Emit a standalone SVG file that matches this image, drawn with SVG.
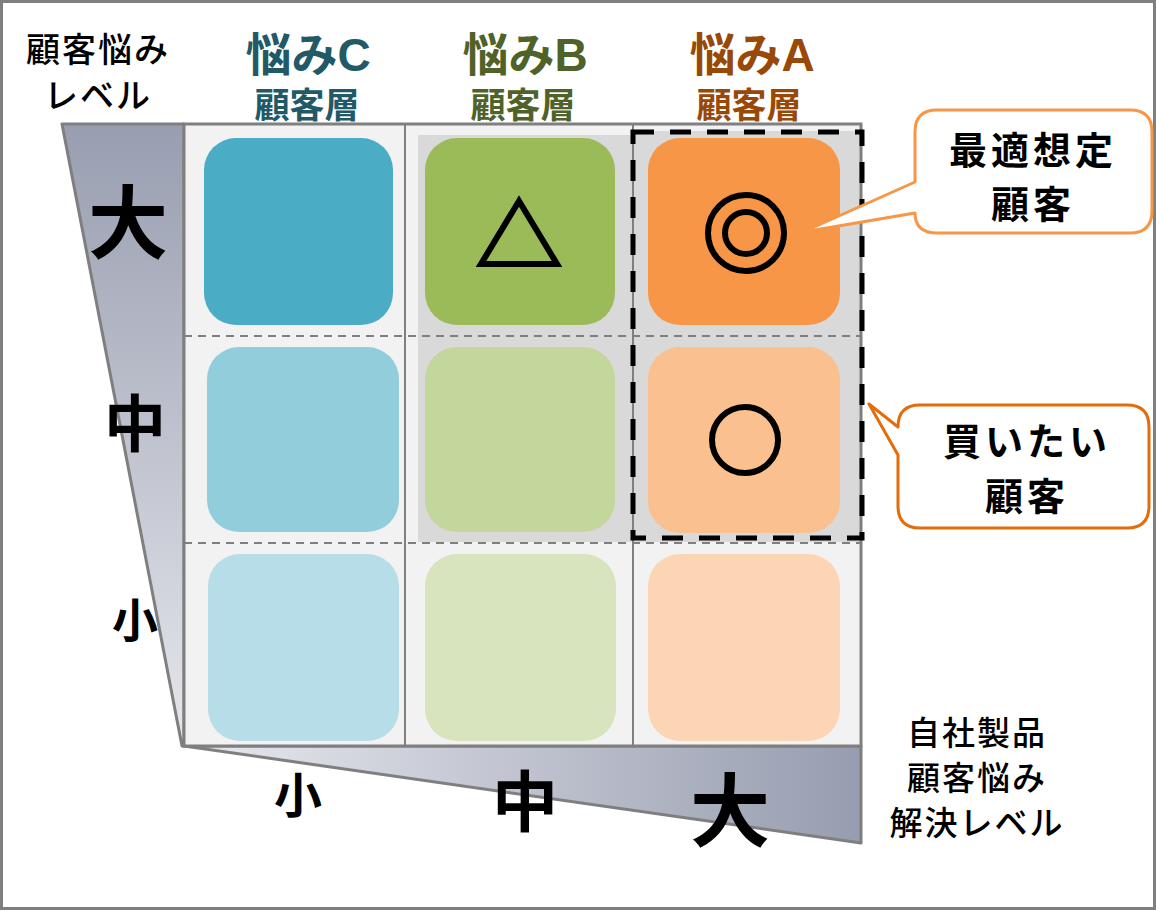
<svg xmlns="http://www.w3.org/2000/svg" width="1157" height="911" viewBox="0 0 1157 911">
<defs>
<linearGradient id="gv" x1="0" y1="0" x2="0" y2="1">
<stop offset="0" stop-color="#989eb0"/>
<stop offset="1" stop-color="#e6e7ec"/>
</linearGradient>
<linearGradient id="gh" x1="0" y1="0" x2="1" y2="0">
<stop offset="0" stop-color="#e8e9ee"/>
<stop offset="1" stop-color="#979db0"/>
</linearGradient>
<style>
.t{font-family:"Liberation Sans","Noto Sans CJK JP",sans-serif;font-weight:bold;text-anchor:middle}
.m{font-family:"Noto Sans CJK JP",sans-serif;font-weight:500;text-anchor:middle;fill:#000}
.b{font-family:"Noto Sans CJK JP",sans-serif;font-weight:bold;text-anchor:middle;fill:#000}
.div{stroke:#7f7f7f;stroke-width:2;fill:none}
.row{stroke:#7f7f7f;stroke-width:2;stroke-dasharray:8 6;fill:none}
.sym{fill:none;stroke:#000;stroke-width:6}
</style>
</defs>
<rect x="0" y="0" width="1157" height="911" fill="#fff"/>
<rect x="1.5" y="1.5" width="1153" height="907" fill="none" stroke="#7f7f7f" stroke-width="3"/>

<g id="axis-left">
<polygon points="62,124 184,124 184,746 182,746" fill="url(#gv)" stroke="#7f7f7f" stroke-width="3" stroke-linejoin="round"/>
<text class="b" x="128" y="252" font-size="80">大</text>
<text class="b" x="135" y="447" font-size="62">中</text>
<text class="b" x="135" y="637" font-size="46">小</text>
</g>
<g id="axis-bottom">
<polygon points="184,746 861,746 861,843" fill="url(#gh)" stroke="#7f7f7f" stroke-width="3" stroke-linejoin="round"/>
<text class="b" x="298" y="813" font-size="48">小</text>
<text class="b" x="525" y="826" font-size="66">中</text>
<text class="b" x="730" y="840" font-size="80">大</text>
</g>

<g id="grid">
<rect x="184" y="124" width="677" height="622" fill="#f2f2f2"/>
<rect x="418" y="135" width="215" height="407" fill="#d9d9d9"/>
<rect x="633" y="131" width="228" height="411" fill="#d9d9d9"/>
<line class="div" x1="405" y1="124" x2="405" y2="746"/>
<line class="div" x1="633" y1="124" x2="633" y2="746"/>
<line class="row" x1="184" y1="336" x2="861" y2="336"/>
<line class="row" x1="184" y1="543" x2="861" y2="543"/>
<rect x="184" y="124" width="677" height="622" fill="none" stroke="#7f7f7f" stroke-width="3"/>
</g>

<g id="tiles">
<rect id="c1" x="204" y="138" width="189" height="187" rx="32" fill="#4bacc6"/>
<rect id="c2" x="207" y="347" width="192" height="185" rx="32" fill="#92cddc"/>
<rect id="c3" x="208" y="554" width="191" height="187" rx="32" fill="#b7dde8"/>
<rect id="b1" x="425" y="138" width="190" height="187" rx="32" fill="#9bbb59"/>
<rect id="b2" x="425" y="347" width="190" height="185" rx="32" fill="#c3d69b"/>
<rect id="b3" x="425" y="554" width="191" height="187" rx="32" fill="#d7e4bd"/>
<rect id="a1" x="648" y="138" width="192" height="187" rx="32" fill="#f79646"/>
<rect id="a2" x="648" y="347" width="192" height="186" rx="32" fill="#fac090"/>
<rect id="a3" x="648" y="554" width="192" height="187" rx="32" fill="#fcd5b5"/>
</g>

<g id="symbols">
<polygon class="sym" points="481,264 557,264 519,201" stroke-linejoin="miter"/>
<circle class="sym" cx="746" cy="233" r="38"/>
<circle class="sym" cx="746" cy="233" r="21"/>
<circle class="sym" cx="745" cy="440" r="33" stroke-width="5"/>
</g>

<g id="target-frame">
<rect x="633" y="132" width="229" height="406" fill="none" stroke="#000" stroke-width="5" stroke-dasharray="21 16"/>
</g>

<g id="headers">
<text class="m" x="98" y="62" font-size="34" letter-spacing="2">顧客悩み</text>
<text class="m" x="98" y="108" font-size="34" letter-spacing="2">レベル</text>
<text class="t" x="308" y="71" font-size="46" fill="#215967">悩みC</text>
<text class="t" x="307" y="118" font-size="35" fill="#215967">顧客層</text>
<text class="t" x="525" y="71" font-size="46" fill="#4f6228">悩みB</text>
<text class="t" x="523" y="118" font-size="35" fill="#4f6228">顧客層</text>
<text class="t" x="752" y="71" font-size="46" fill="#984807">悩みA</text>
<text class="t" x="749" y="118" font-size="35" fill="#984807">顧客層</text>
<text class="m" x="977" y="745" font-size="33" letter-spacing="2">自社製品</text>
<text class="m" x="977" y="790" font-size="33" letter-spacing="2">顧客悩み</text>
<text class="m" x="977" y="835" font-size="33" letter-spacing="2">解決レベル</text>
</g>

<g id="callout-best">
<path d="M937 110 H1130 Q1152 110 1152 132 V211 Q1152 233 1130 233 H937 Q915 233 915 213 L803 232 L915 182 V132 Q915 110 937 110 Z" fill="#fff" stroke="#f79646" stroke-width="3" stroke-linejoin="round"/>
<text class="b" x="1033" y="164" font-size="38" letter-spacing="4">最適想定</text>
<text class="b" x="1033" y="218" font-size="38" letter-spacing="4">顧客</text>
</g>

<g id="callout-buy">
<path d="M920 405 H1127 Q1149 405 1149 427 V506 Q1149 528 1127 528 H920 Q898 528 898 506 V455 L869 404 L898 427 Q898 405 920 405 Z" fill="#fff" stroke="#e46c0a" stroke-width="3" stroke-linejoin="round"/>
<text class="b" x="1027" y="455" font-size="38" letter-spacing="4">買いたい</text>
<text class="b" x="1027" y="510" font-size="38" letter-spacing="4">顧客</text>
</g>
</svg>
